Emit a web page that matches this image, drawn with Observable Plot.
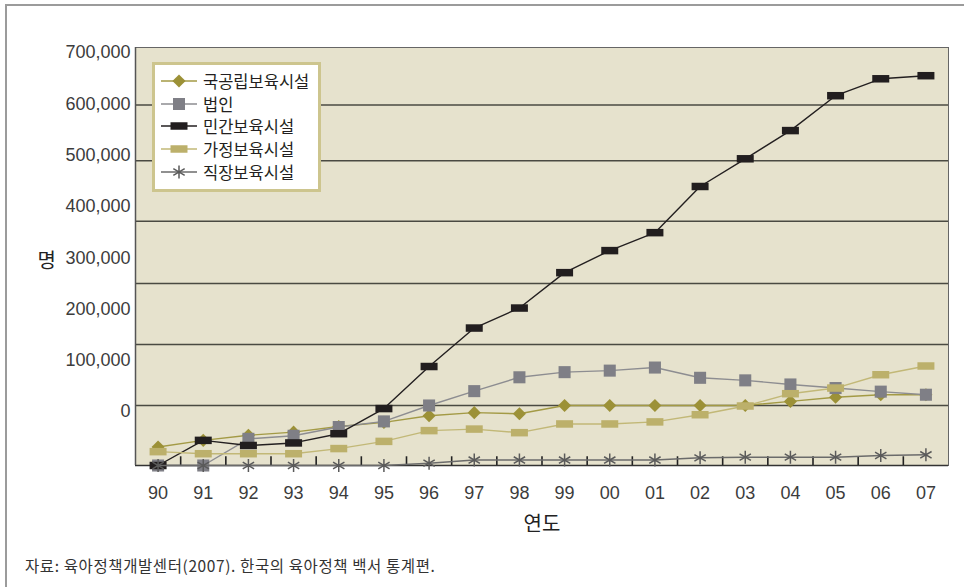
<!DOCTYPE html>
<html>
<head>
<meta charset="utf-8">
<script src="https://cdn.jsdelivr.net/npm/d3@7"></script>
<script src="https://cdn.jsdelivr.net/npm/@observablehq/plot@0.6"></script>
<style>
  html, body { margin: 0; padding: 0; background: #fff; width: 964px; height: 587px; overflow: hidden; }
  #frame { position: absolute; left: 5px; top: 4px; right: -10px; bottom: -10px;
           border-left: 2px solid #9b9b9b; border-top: 2px solid #9b9b9b; }
  #chart { position: absolute; left: 0; top: 0; }
  #legend { position: absolute; left: 152px; top: 62px; width: 169px; height: 130px; box-sizing: border-box;
            border: 3px solid #cdc58e; background: #fff; padding-top: 4.6px; }
  .row { display: flex; align-items: center; height: 22.75px; }
  .row svg { margin-left: 6px; flex: none; }
  .row span { margin-left: 6px; font-family: "Noto Sans CJK KR", sans-serif; font-size: 16.5px; color: #231f20; white-space: nowrap; }
  #caption { position: absolute; left: 25px; top: 554px; font-family: "Noto Sans CJK KR", sans-serif;
             font-size: 15.5px; letter-spacing: 0.6px; color: #333; white-space: nowrap; }
</style>
</head>
<body>
<div id="frame"></div>
<div id="chart"></div>
<div id="legend"></div>
<div id="caption">자료: 육아정책개발센터(2007). 한국의 육아정책 백서 통계편.</div>
<script>
// ---- data ----
const years = ["90","91","92","93","94","95","96","97","98","99","00","01","02","03","04","05","06","07"];
const seriesNames = ["국공립보육시설", "법인", "민간보육시설", "가정보육시설", "직장보육시설"];
const yLabel = "명";
const xLabel = "연도";
const yDomain = [-105000, 710000];
const yTickValues = [0, 100000, 200000, 300000, 400000, 500000, 600000, 700000];
const gridValues = [12000, 131000, 250000, 371000, 489000, 598000];

const gukgongnip = [-69000, -56000, -46000, -40000, -29000, -21000, -8000, -2000, -4000, 12000, 12000, 12000, 12000, 12000, 20000, 28000, 33000, 33000];
const beobin     = [-105000, -105000, -53000, -47000, -30000, -19000, 12000, 40000, 67000, 77000, 80000, 86000, 66000, 61000, 53000, 46000, 39000, 33000];
const mingan     = [-105000, -56000, -66000, -61000, -43000, 6000, 88000, 163000, 202000, 271000, 314000, 349000, 439000, 493000, 548000, 616000, 649000, 655000];
const gajeong    = [-78000, -82000, -82000, -82000, -72000, -58000, -37000, -34000, -41000, -24000, -24000, -20000, -6000, 11000, 35000, 46000, 72000, 89000];
const jikjang    = [-105000, -105000, -105000, -105000, -105000, -105000, -100500, -94300, -94300, -94300, -94300, -94300, -90000, -88800, -88800, -88800, -85500, -84100];

// ---- styles ----
const wideRect = { draw(ctx) { ctx.rect(-8.5, -3.75, 17, 7.5); } };
const series = [
  { name: seriesNames[0], values: gukgongnip, line: "#a39a45", fill: "#9c9137", stroke: "none", symbol: "diamond2", r: 5.9 },
  { name: seriesNames[1], values: beobin,     line: "#8d8d91", fill: "#7f7f86", stroke: "none", symbol: "square",   r: 6.8 },
  { name: seriesNames[2], values: mingan,     line: "#231f20", fill: "#221e1f", stroke: "none", symbol: wideRect,   r: 6 },
  { name: seriesNames[3], values: gajeong,    line: "#c2b877", fill: "#bcb06b", stroke: "none", symbol: wideRect,   r: 6 },
  { name: seriesNames[4], values: jikjang,    line: "#6b6b6b", fill: "none",    stroke: "#5a5a5a", symbol: "asterisk", r: 6.2 }
];

// category boundaries for the inner bottom ticks
const boundaries = years.slice(1).map((_, i) => i + 0.5);
const tickLength = 17000; // inner tick length, in y units (about 9px)
const tickRows = boundaries.map(b => ({ x: b, y1: yDomain[0], y2: yDomain[0] + tickLength }));

const seriesMarks = series.flatMap(s => {
  const rows = s.values.map((v, i) => ({ i, v }));
  return [
    Plot.line(rows, { x: "i", y: "v", stroke: s.line, strokeWidth: 1.4 }),
    Plot.dot(rows, { x: "i", y: "v", symbol: s.symbol, r: s.r, fill: s.fill, stroke: s.stroke, strokeWidth: 1.5 })
  ];
});

const chart = Plot.plot({
  width: 964,
  height: 545,
  marginLeft: 135,
  marginRight: 16,
  marginTop: 47,
  marginBottom: 80,
  x: { type: "linear", domain: [-0.5, years.length - 0.5] },
  y: { type: "linear", domain: yDomain },
  style: { fontFamily: '"Liberation Sans", "Noto Sans CJK KR", sans-serif', fontSize: "18px", color: "#3c3c3c", background: "transparent", overflow: "visible" },
  marks: [
    Plot.frame({ fill: "#e6e2cd", stroke: "none" }),
    Plot.ruleY(gridValues, { stroke: "#4a4a42", strokeWidth: 1.5 }),
    Plot.frame({ stroke: "#666", strokeWidth: 1 }),
    Plot.ruleX(tickRows, { x: "x", y1: "y1", y2: "y2", stroke: "#222", strokeWidth: 1.6 }),
    Plot.ruleY([yDomain[0]], { stroke: "#333", strokeWidth: 1.6 }),
    Plot.ruleX([-0.5], { stroke: "#555", strokeWidth: 1.5 }),
    Plot.axisY(yTickValues, { tickSize: 0, tickPadding: 5, tickFormat: d3.format(","), label: null }),
    Plot.text([yLabel], { text: d => d, frameAnchor: "left", dx: -98, dy: 5, fontSize: 20, fontFamily: '"Noto Sans CJK KR", sans-serif', fill: "#222" }),
    Plot.axisX(d3.range(years.length), { tickSize: 0, tickPadding: 21, tickFormat: i => years[i], label: null }),
    Plot.axisX({ ticks: [], label: xLabel, labelAnchor: "center", labelOffset: 65, labelArrow: "none", fontSize: 20, fontFamily: '"Noto Sans CJK KR", sans-serif', fill: "#222" }),
    ...seriesMarks
  ]
});
document.getElementById("chart").appendChild(chart);

// ---- legend ----
const symbolTypes = { diamond2: d3.symbolDiamond2, square: d3.symbolSquare, asterisk: d3.symbolAsterisk };
const legend = d3.select("#legend");
series.forEach(s => {
  const row = legend.append("div").attr("class", "row");
  const svg = row.append("svg").attr("width", 36).attr("height", 16);
  svg.append("line").attr("x1", 0).attr("x2", 36).attr("y1", 8).attr("y2", 8)
     .attr("stroke", s.line).attr("stroke-width", 1.4);
  const type = typeof s.symbol === "string" ? symbolTypes[s.symbol] : s.symbol;
  svg.append("path")
     .attr("transform", "translate(18,8)")
     .attr("d", d3.symbol(type, s.r * s.r * Math.PI)())
     .attr("fill", s.fill).attr("stroke", s.stroke).attr("stroke-width", 1.5);
  row.append("span").text(s.name);
});
</script>
</body>
</html>
